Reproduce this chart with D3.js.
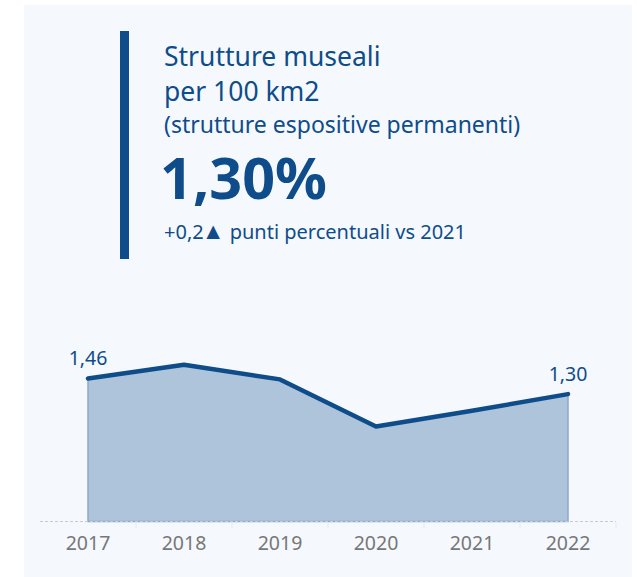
<!DOCTYPE html>
<html><head><meta charset="utf-8">
<script src="https://cdn.jsdelivr.net/npm/d3@7"></script>
<style>
html,body{margin:0;padding:0;background:#fff;}
svg{display:block;font-family:"Noto Sans",sans-serif;}
</style></head>
<body>
<svg id="chart" width="637" height="577"></svg>
<script>
const years = ["2017","2018","2019","2020","2021","2022"];
const values = [1.46, 1.60, 1.45, 0.97, 1.13, 1.30];
const labelled = ["2017","2022"];
const titleLines = ["Strutture museali","per 100 km2","(strutture espositive permanenti)"];
const kpiValue = "1,30%";
const kpiDelta = "+0,2▲";
const kpiNote = " punti percentuali vs 2021";

const fmt = v => v.toFixed(2).replace(".", ",");
const blue = "#0f4c8a";
const svg = d3.select("#chart");

svg.append("rect").attr("x",24).attr("y",5).attr("width",608).attr("height",572).attr("fill","#f5f9fd");
svg.append("rect").attr("x",120).attr("y",31).attr("width",9).attr("height",228).attr("fill",blue);

const tg = svg.append("g").attr("fill",blue);
const tSizes = [26.5, 26.5, 23];
const tYs = [66, 101, 133];
titleLines.forEach((t,i)=>{
  tg.append("text").attr("x",164).attr("y",tYs[i]).attr("font-size",tSizes[i]).text(t);
});
tg.append("text").attr("x",160).attr("y",199).attr("font-size",57.5).attr("font-weight","bold").text(kpiValue);
const nt = tg.append("text").attr("x",164).attr("y",239).attr("font-size",20);
nt.append("tspan").text(kpiDelta.slice(0,-1));
nt.append("tspan").attr("dx",-2).attr("font-size",23).text(kpiDelta.slice(-1));
nt.append("tspan").attr("font-size",20).text(kpiNote);

const x = d3.scaleBand().domain(years).range([40,616]);
const y = d3.scaleLinear().domain([0,1.6]).range([521.5, 521.5-1.6*98]);
const cx = d => x(d) + x.bandwidth()/2;
const data = years.map((yr,i)=>({yr, v:values[i]}));

svg.append("path").datum(data)
  .attr("d", d3.area().x(d=>cx(d.yr)).y0(y(0)).y1(d=>y(d.v)))
  .attr("fill","#adc4da").attr("stroke","#8ea9c8").attr("stroke-width",1.5);

svg.append("line").attr("x1",40).attr("x2",616).attr("y1",y(0)).attr("y2",y(0))
  .attr("stroke","#c8ccd2").attr("stroke-dasharray","3,2").attr("stroke-width",1);

svg.append("path").datum(data)
  .attr("d", d3.line().x(d=>cx(d.yr)).y(d=>y(d.v)))
  .attr("fill","none").attr("stroke",blue).attr("stroke-width",4.5)
  .attr("stroke-linecap","round").attr("stroke-linejoin","round");

const ax = svg.append("g").attr("transform",`translate(0,${y(0)})`)
  .call(d3.axisBottom(x).tickSize(0).tickPadding(14.5));
ax.select(".domain").remove();
ax.selectAll("text").attr("font-size",19.5).attr("fill","#777").attr("font-family","Noto Sans, sans-serif");

svg.selectAll(".sep").data(d3.range(1, years.length+1)).enter().append("line")
  .attr("x1",i=>x.range()[0]+i*x.step()).attr("x2",i=>x.range()[0]+i*x.step())
  .attr("y1",y(0)+1).attr("y2",y(0)+7).attr("stroke","#e6e8ec").attr("stroke-width",1);

svg.selectAll(".vl").data(data.filter(d=>labelled.includes(d.yr))).enter().append("text")
  .attr("x",d=>cx(d.yr)).attr("y",d=>y(d.v)-13).attr("text-anchor","middle")
  .attr("font-size",19.5).attr("fill",blue).text(d=>fmt(d.v));
</script>
</body></html>
